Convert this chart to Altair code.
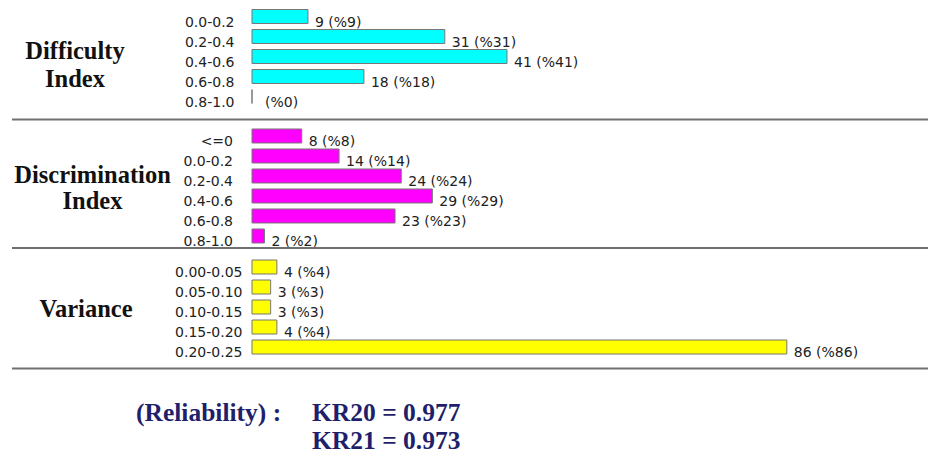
import altair as alt
import pandas as pd

# ---- data ----
diff_cats = ["0.0-0.2", "0.2-0.4", "0.4-0.6", "0.6-0.8", "0.8-1.0"]
diff_counts = [9, 31, 41, 18, 0]

disc_cats = ["<=0", "0.0-0.2", "0.2-0.4", "0.4-0.6", "0.6-0.8", "0.8-1.0"]
disc_counts = [8, 14, 24, 29, 23, 2]

var_cats = ["0.00-0.05", "0.05-0.10", "0.10-0.15", "0.15-0.20", "0.20-0.25"]
var_counts = [4, 3, 3, 4, 86]

group_titles = ["Difficulty\nIndex", "Discrimination\nIndex", "Variance"]
reliability_label = ["(Reliability) :"]
reliability_values = ["KR20 = 0.977\nKR21 = 0.973"]

SANS = "DejaVu Sans"
SERIF = "Liberation Serif"
W = 676
XMAX = 108.7
LABEL_COLOR = "#222222"
RULE_COLOR = "#707070"


def value_label(c):
    return f"{c} (%{c})" if c else "(%0)"


def panel(cats, counts, color, H, po, align, lab_pad, rule_y, title, tx, ty, lh):
    df = pd.DataFrame({"cat": cats, "n": counts,
                       "lab": [value_label(c) for c in counts]})
    base = alt.Chart(df)
    yscale = alt.Scale(domain=cats, paddingInner=0.3, paddingOuter=po,
                       align=align, round=False)
    y = alt.Y("cat:N", sort=cats, scale=yscale,
              axis=alt.Axis(title=None, domain=False, ticks=False, tickSize=0,
                            grid=False, labelPadding=lab_pad, labelOffset=6,
                            labelFont=SANS, labelFontSize=14,
                            labelColor=LABEL_COLOR))
    x = alt.X("n:Q", scale=alt.Scale(domain=[0, XMAX], nice=False, zero=True),
              axis=None)
    bars = base.mark_bar(color=color, stroke="#777777", strokeWidth=1).encode(x=x, y=y)
    enc = dict(x=x, y=alt.Y("cat:N", sort=cats), text="lab:N")
    vals = base.transform_filter("datum.n > 0").mark_text(
        align="left", baseline="middle", dx=7, dy=6,
        font=SANS, fontSize=14, color=LABEL_COLOR).encode(**enc)
    zero_vals = base.transform_filter("datum.n == 0").mark_text(
        align="left", baseline="middle", dx=13, dy=6,
        font=SANS, fontSize=14, color=LABEL_COLOR).encode(**enc)
    tdf = pd.DataFrame({"t": [title]})
    ttl = alt.Chart(tdf).mark_text(font=SERIF, fontSize=24.5, fontWeight="bold",
                                   align="center", baseline="alphabetic",
                                   lineBreak="\n", lineHeight=lh,
                                   color="#111111").encode(
        x=alt.value(tx), y=alt.value(ty), text="t:N")
    rule = alt.Chart(pd.DataFrame({"r": [0]})).mark_rule(
        color=RULE_COLOR, strokeWidth=2).encode(
        x=alt.value(-240), x2=alt.value(W), y=alt.value(rule_y))
    return [bars, vals, zero_vals, ttl, rule], H


l1, H1 = panel(diff_cats, diff_counts, "#00FFFF", 113, 0.475, 0.079, 18, 111.5,
               group_titles[0], -177, 51, 28)
l2, H2 = panel(disc_cats, disc_counts, "#FF00FF", 129, 0.375, 0.533, 19.5, 127,
               group_titles[1], -159.5, 62.3, 26)
l3, H3 = panel(var_cats, var_counts, "#FFFF00", 120, 0.65, 0.385, 10, 118.5,
               group_titles[2], -166, 66.7, 26)

rel1 = alt.Chart(pd.DataFrame({"t": reliability_label})).mark_text(
    font=SERIF, fontSize=25.5, fontWeight="bold", align="left",
    baseline="alphabetic", color="#1f1f6b").encode(
    x=alt.value(-116), y=alt.value(171), text="t:N")
rel2 = alt.Chart(pd.DataFrame({"t": reliability_values})).mark_text(
    font=SERIF, fontSize=25.5, fontWeight="bold", align="left",
    baseline="alphabetic", lineBreak="\n", lineHeight=28,
    color="#1f1f6b").encode(
    x=alt.value(60), y=alt.value(171), text="t:N")

p1 = alt.layer(*l1).properties(width=W, height=H1)
p2 = alt.layer(*l2).properties(width=W, height=H2)
p3 = alt.layer(*l3, rel1, rel2).properties(width=W, height=H3)

chart = alt.vconcat(p1, p2, p3, spacing=0).properties(
    padding={"left": 3, "top": 0, "right": 0, "bottom": 0},
    background="white",
).configure_view(stroke="transparent", strokeWidth=0)

chart.save("out.html", embed_options={"renderer": "svg", "actions": False})
